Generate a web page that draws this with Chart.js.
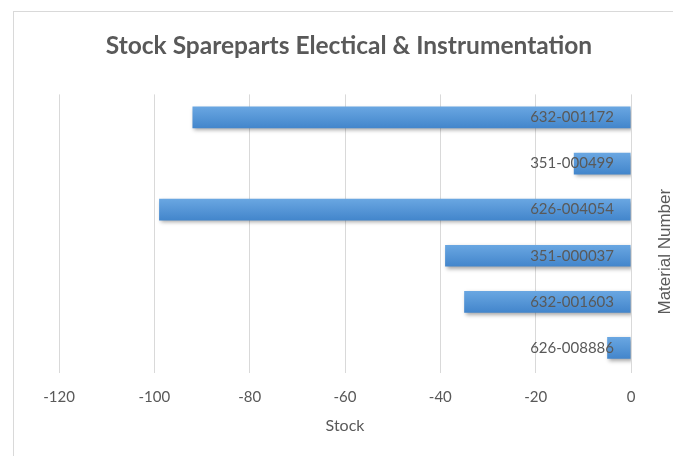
<!DOCTYPE html>
<html>
<head>
<meta charset="utf-8">
<script src="https://cdn.jsdelivr.net/npm/chart.js@4"></script>
<style>
  html, body { margin: 0; padding: 0; background: #fff; }
  #wrap { width: 673px; height: 456px; }
</style>
</head>
<body>
<div id="wrap"><canvas id="chart"></canvas></div>
<script>
const materials = ["632-001172", "351-000499", "626-004054", "351-000037", "632-001603", "626-008886"];
const stock = [-92, -12, -99, -39, -35, -5];
const xTicks = [-120, -100, -80, -60, -40, -20, 0];

const textGrey = "#595959";
const gridGrey = "#d9d9d9";

// bar fill: light blue on top fading to a deeper blue at the bottom
function barFill(ctx) {
    const chart = ctx.chart;
    if (!chart.chartArea || ctx.type !== "data") return "#5b9bd5";
    const meta = chart.getDatasetMeta(ctx.datasetIndex);
    const bar = meta.data[ctx.dataIndex];
    const y = chart.scales.y.getPixelForValue(ctx.dataIndex);
    const h = bar && bar.height ? bar.height / 2 : 11;
    const g = chart.ctx.createLinearGradient(0, y - h, 0, y + h);
    g.addColorStop(0, "#6aa7e2");
    g.addColorStop(1, "#4285cb");
    return g;
}

const frame = {
    id: "frame",
    beforeDraw(chart) {
        const c = chart.ctx;
        c.save();
        c.strokeStyle = gridGrey;
        c.lineWidth = 1;
        c.strokeRect(13.5, 11.5, 900, 900);
        c.restore();
    },
    beforeDatasetsDraw(chart) {
        const c = chart.ctx;
        c.save();
        c.shadowColor = "rgba(0,0,0,0.35)";
        c.shadowBlur = 4;
        c.shadowOffsetX = 2;
        c.shadowOffsetY = 2;
    },
    afterDatasetsDraw(chart) {
        chart.ctx.restore();
    },
    afterDraw(chart) {
        // y axis title, reading bottom to top like the original
        const c = chart.ctx;
        const area = chart.chartArea;
        c.save();
        c.translate(665, (area.top + area.bottom) / 2 + 19);
        c.rotate(-Math.PI / 2);
        c.fillStyle = textGrey;
        c.font = "17px 'Liberation Sans'";
        c.textAlign = "center";
        c.textBaseline = "middle";
        c.fillText("Material Number", 0, 0);
        c.restore();
    }
};

new Chart("chart", {
    type: "bar",
    data: {
        labels: materials,
        datasets: [{
            data: stock,
            backgroundColor: barFill,
            borderWidth: 0,
            barPercentage: 0.47,
            categoryPercentage: 1
        }]
    },
    options: {
        indexAxis: "y",
        responsive: true,
        maintainAspectRatio: false,
        animation: false,
        layout: { padding: { top: 0, left: 59, right: 34, bottom: 0 } },
        plugins: {
            legend: { display: false },
            tooltip: { enabled: false },
            title: {
                display: true,
                text: "Stock Spareparts Electical & Instrumentation",
                color: textGrey,
                font: { family: "Lato", size: 24.5, weight: "bold" },
                padding: { top: 31, bottom: 34 }
            }
        },
        scales: {
            x: {
                min: -120,
                max: 0,
                afterBuildTicks: (scale) => { scale.ticks = xTicks.map(v => ({ value: v })); },
                afterFit: (scale) => { scale.height = 85; },
                grid: { color: gridGrey, lineWidth: 1, drawTicks: true, tickLength: 2, tickColor: gridGrey },
                border: { display: false },
                ticks: {
                    color: textGrey,
                    font: { family: "Lato", size: 15 },
                    padding: 15,
                    maxRotation: 0
                },
                title: {
                    display: true,
                    text: "Stock",
                    color: textGrey,
                    font: { family: "Lato", size: 16 },
                    padding: { top: 4, bottom: 21 }
                }
            },
            y: {
                position: "right",
                afterFit: (scale) => { scale.width = 8; },
                grid: { display: false },
                border: { display: false },
                ticks: {
                    mirror: true,
                    padding: -17,
                    z: 1,
                    color: textGrey,
                    font: { family: "Lato", size: 15 }
                }
            }
        }
    },
    plugins: [frame]
});
</script>
</body>
</html>
